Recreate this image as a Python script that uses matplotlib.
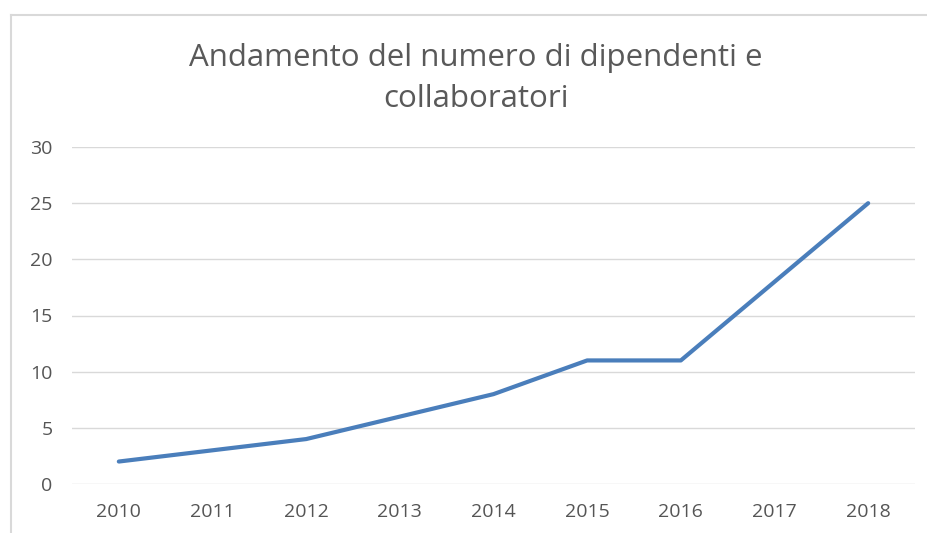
import matplotlib.pyplot as plt
from matplotlib.lines import Line2D

years = ['2010', '2011', '2012', '2013', '2014', '2015', '2016', '2017', '2018']
employees = [2, 3, 4, 6, 8, 11, 11, 18, 25]
y_ticks = [0, 5, 10, 15, 20, 25, 30]

W, H = 927, 533
fig = plt.figure(figsize=(W / 100, H / 100), dpi=100)
plt.rcParams['font.family'] = ['Open Sans', 'DejaVu Sans']

ax = fig.add_axes([72 / W, 1 - 484 / H, (915 - 72) / W, (484 - 147) / H])
x = list(range(len(years)))
ax.plot(x, employees, color='#4a7ebb', linewidth=3.0, solid_capstyle='round',
        solid_joinstyle='round', zorder=3)

ax.set_xlim(-0.5, len(years) - 0.5)
ax.set_ylim(0, 30)
ax.set_yticks(y_ticks)
ax.set_xticks(x)
ax.set_xticklabels(years)
ax.tick_params(length=0, labelsize=14, labelcolor='#555555')
ax.tick_params(axis='y', pad=14)
ax.tick_params(axis='x', pad=14)
ax.grid(axis='y', color='#d9d9d9', linewidth=1.0)
ax.set_axisbelow(True)
for s in ax.spines.values():
    s.set_visible(False)

fig.text(476 / W, 1 - 58 / H, 'Andamento del numero di dipendenti e',
         ha='center', va='center', fontsize=22.5, color='#595959')
fig.text(476 / W, 1 - 99 / H, 'collaboratori',
         ha='center', va='center', fontsize=22.5, color='#595959')

# outer chart frame (only left and top edges visible in the reference)
fig.add_artist(Line2D([11 / W, 11 / W], [0, 1 - 15 / H], transform=fig.transFigure,
                      color='#d9d9d9', linewidth=1.5))
fig.add_artist(Line2D([11 / W, 1], [1 - 15 / H, 1 - 15 / H], transform=fig.transFigure,
                      color='#d9d9d9', linewidth=1.5))

fig.savefig('out.png', dpi=100)
